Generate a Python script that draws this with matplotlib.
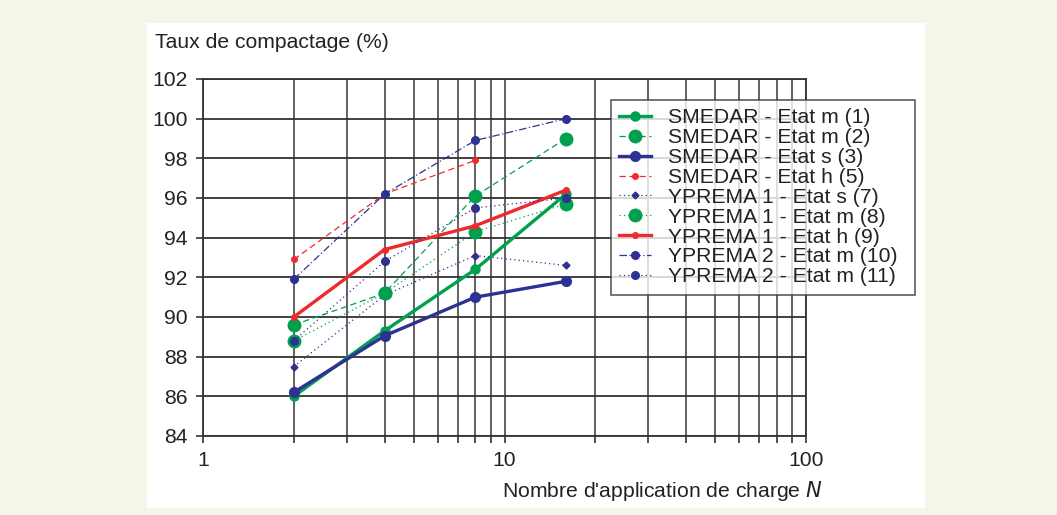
import matplotlib
matplotlib.use("Agg")
import matplotlib.pyplot as plt
from matplotlib.patches import Rectangle
from matplotlib.ticker import FixedLocator, NullFormatter

plt.rcParams["font.family"] = ["Liberation Sans", "DejaVu Sans"]

# nombre d'applications de charge
N = [2, 4, 8, 16]
N_h5 = [2, 4, 8]

# taux de compactage (%)
smedar_m1 = [86.0, 89.3, 92.4, 96.2]
smedar_m2 = [89.6, 91.2, 96.1, 99.0]
smedar_s3 = [86.2, 89.05, 91.0, 91.8]
smedar_h5 = [92.9, 96.2, 97.9]
ypr1_s7 = [87.5, 91.1, 93.1, 92.6]
ypr1_m8 = [88.8, 91.2, 94.3, 95.7]
ypr1_h9 = [90.0, 93.4, 94.6, 96.4]
ypr2_m10 = [91.9, 96.2, 98.9, 100.0]
ypr2_m11 = [88.8, 92.8, 95.5, 96.0]

labels = ["SMEDAR - Etat m (1)", "SMEDAR - Etat m (2)", "SMEDAR - Etat s (3)",
          "SMEDAR - Etat h (5)", "YPREMA 1 - Etat s (7)", "YPREMA 1 - Etat m (8)",
          "YPREMA 1 - Etat h (9)", "YPREMA 2 - Etat m (10)", "YPREMA 2 - Etat m (11)"]

green = "#00A04F"
blue = "#2E3192"
red = "#EE2A2E"
fs = 15.2

fig = plt.figure(figsize=(10.57, 5.15), dpi=100, facecolor="#F3F6E8")
fig.patches.append(Rectangle((147 / 1057, 1 - 508 / 515), (925 - 147) / 1057, (508 - 23) / 515,
                             transform=fig.transFigure, facecolor="white", edgecolor="none",
                             zorder=-5))

ax = fig.add_axes([203 / 1057, 1 - 436 / 515, (806 - 203) / 1057, (436 - 79) / 515])
ax.set_zorder(1)
ax.set_facecolor("white")
ax.set_xscale("log")
ax.set_xlim(1, 100)
ax.set_ylim(84, 102)
ax.set_yticks(range(84, 103, 2))
ax.xaxis.set_major_locator(FixedLocator([1, 10, 100]))
ax.xaxis.set_minor_locator(FixedLocator([2, 3, 4, 5, 6, 7, 8, 9, 20, 30, 40, 50, 60, 70, 80, 90]))
ax.xaxis.set_minor_formatter(NullFormatter())
ax.set_xticklabels(["1", "10", "100"])

ax.grid(True, which="both", axis="x", color="#555555", lw=1.3)
ax.grid(True, which="major", axis="y", color="#333333", lw=1.3)
ax.set_axisbelow(True)
for s in ax.spines.values():
    s.set_color("#333333")
    s.set_linewidth(1.3)
ax.tick_params(axis="both", which="both", direction="out", length=5, width=1.2,
               color="#333333", labelsize=fs, labelcolor="#222222")
ax.tick_params(axis="x", pad=6)
ax.tick_params(axis="y", pad=6)

thin = 0.9
h = []
h += ax.plot(N, smedar_m1, "-", color=green, lw=2.4, marker="o", ms=6.5)
h += ax.plot(N, smedar_m2, color=green, lw=thin, ls=(0, (5, 3)), marker="o", ms=9)
h += ax.plot(N, smedar_s3, "-", color=blue, lw=2.4, marker="o", ms=7)
h += ax.plot(N_h5, smedar_h5, color=red, lw=thin, ls=(0, (5, 3)), marker="o", ms=4)
h += ax.plot(N, ypr1_s7, color=blue, lw=thin, ls=(0, (1, 2.5)), marker="D", ms=3.5)
h += ax.plot(N, ypr1_m8, color=green, lw=thin, ls=(0, (1, 2.5)), marker="o", ms=9)
h += ax.plot(N, ypr1_h9, "-", color=red, lw=2.4, marker="o", ms=4)
h += ax.plot(N, ypr2_m10, color=blue, lw=thin, ls=(0, (6, 2, 1, 2)), marker="o", ms=5.5)
h += ax.plot(N, ypr2_m11, color=blue, lw=thin, ls=(0, (1, 2.5)), marker="o", ms=5.5)

leg = fig.legend(h, labels, loc="upper left",
                 bbox_to_anchor=(611 / 1057, 1 - 100 / 515, (915 - 611) / 1057, 0.0),
                 mode="expand", fontsize=fs, frameon=True, fancybox=False, edgecolor="#333333",
                 borderaxespad=0, handlelength=1.5, handletextpad=0.8, labelspacing=0.04,
                 borderpad=0.4)
leg.set_zorder(5)
leg.get_frame().set_linewidth(1.2)
for t in leg.get_texts():
    t.set_color("#222222")

fig.text(155 / 1057, 1 - 42 / 515, "Taux de compactage (%)", fontsize=fs, color="#222222",
         ha="left", va="center")
fig.text(823 / 1057, 1 - 491 / 515, "Nombre d'application de charge $N$", fontsize=fs,
         color="#222222", ha="right", va="center")

fig.savefig("out.png", dpi=100, facecolor=fig.get_facecolor())
